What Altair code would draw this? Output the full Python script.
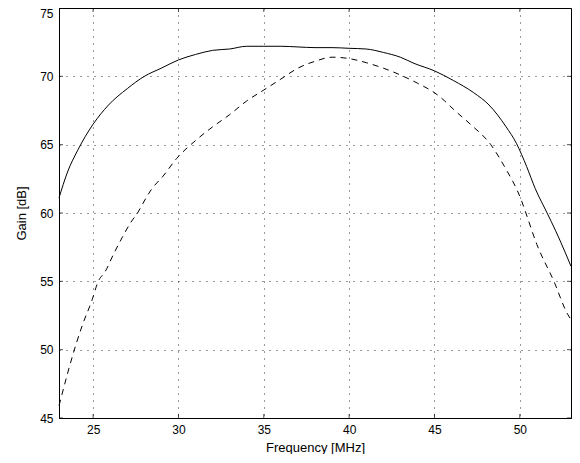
import altair as alt
import pandas as pd

freq_solid = [23, 23.5, 24.1, 25, 25.9, 27, 28, 29, 30, 31, 32, 33, 34, 35, 36, 37, 38, 39, 40,
              41, 42, 43, 43.8, 45, 46.1, 47.3, 48.2, 49.2, 49.8, 50.4, 50.9, 51.6, 52.1, 52.7, 53]
gain_solid = [61.1, 63.0, 64.6, 66.5, 67.9, 69.1, 70.0, 70.6, 71.2, 71.6, 71.9, 72.0, 72.2, 72.2, 72.2, 72.15, 72.1, 72.1, 72.05,
              72.0, 71.75, 71.4, 70.95, 70.4, 69.7, 68.8, 67.9, 66.3, 65.1, 63.4, 61.8, 60.0, 58.7, 57.0, 56.1]

freq_dash = [23, 24.0, 24.4, 24.9, 25.3, 25.7, 26.2, 26.7, 27.2, 27.6, 28.1, 28.4, 29.1, 29.9, 31, 32, 33, 34, 35, 36,
             37, 38, 39, 40, 41, 42, 43, 44, 45, 45.6, 46.1, 47.1, 48.3, 49.1, 50.1, 50.3, 51.0, 52.0, 52.8, 53]
gain_dash = [45.9, 50.4, 51.9, 53.5, 55.0, 55.7, 57.0, 58.2, 59.3, 60.0, 61.1, 61.7, 62.7, 64.0, 65.3, 66.3, 67.2, 68.2, 69.0, 69.8,
             70.6, 71.1, 71.4, 71.3, 71.0, 70.6, 70.1, 69.5, 68.8, 68.2, 67.6, 66.5, 65.0, 63.4, 60.9, 60.2, 57.7, 55.0, 52.6, 52.2]

x_ticks = [25, 30, 35, 40, 45, 50]
y_ticks = [45, 50, 55, 60, 65, 70, 75]

df_s = pd.DataFrame({"f": freq_solid, "g": gain_solid})
df_d = pd.DataFrame({"f": freq_dash, "g": gain_dash})

xs = alt.Scale(domain=[23, 53], nice=False, zero=False)
ys = alt.Scale(domain=[45, 75], nice=False, zero=False)

x_axis = alt.Axis(values=x_ticks, title="Frequency [MHz]", grid=True, tickSize=0,
                  labelPadding=6, titleBaseline="bottom", titleY=36)
y_axis = alt.Axis(values=y_ticks, title="Gain [dB]", grid=True, tickSize=0,
                  labelPadding=6, titleBaseline="middle", titleX=-38,
                  labelOffset={"condition": {"test": "datum.value == 75", "value": 5}, "value": 0})

solid = alt.Chart(df_s).mark_line(color="black", strokeWidth=1, interpolate="monotone").encode(
    x=alt.X("f:Q", scale=xs, axis=x_axis),
    y=alt.Y("g:Q", scale=ys, axis=y_axis),
)
dashed = alt.Chart(df_d).mark_line(color="black", strokeWidth=1, strokeDash=[6, 5],
                                   interpolate="monotone").encode(
    x=alt.X("f:Q", scale=xs),
    y=alt.Y("g:Q", scale=ys),
)

xt = pd.DataFrame({"f": x_ticks, "b": [45] * len(x_ticks), "t": [75] * len(x_ticks)})
yt = pd.DataFrame({"g": y_ticks, "l": [23] * len(y_ticks), "r": [53] * len(y_ticks)})

tick_b = alt.Chart(xt).mark_tick(orient="vertical", size=4, yOffset=-2, color="black", thickness=1).encode(
    x=alt.X("f:Q", scale=xs), y=alt.Y("b:Q", scale=ys))
tick_t = alt.Chart(xt).mark_tick(orient="vertical", size=4, yOffset=2, color="black", thickness=1).encode(
    x=alt.X("f:Q", scale=xs), y=alt.Y("t:Q", scale=ys))
tick_l = alt.Chart(yt).mark_tick(orient="horizontal", size=4, xOffset=2, color="black", thickness=1).encode(
    x=alt.X("l:Q", scale=xs), y=alt.Y("g:Q", scale=ys))
tick_r = alt.Chart(yt).mark_tick(orient="horizontal", size=4, xOffset=-2, color="black", thickness=1).encode(
    x=alt.X("r:Q", scale=xs), y=alt.Y("g:Q", scale=ys))

chart = alt.layer(solid, dashed, tick_b, tick_t, tick_l, tick_r).properties(
    width=512, height=410,
    autosize=alt.AutoSizeParams(type="none"),
    padding={"left": 51, "top": 0, "right": 1, "bottom": 36},
    background="white",
).configure_view(
    stroke="black", strokeWidth=1
).configure_axis(
    gridColor="black", gridDash=[1, 6], gridOpacity=0.8, gridWidth=1,
    domainColor="black", domainWidth=1,
    labelFont="Liberation Sans", labelFontSize=12, labelColor="black",
    titleFont="Liberation Sans", titleFontSize=13, titleFontWeight="normal", titleColor="black",
)

chart.save("out.html", embed_options={"renderer": "svg", "actions": False})
